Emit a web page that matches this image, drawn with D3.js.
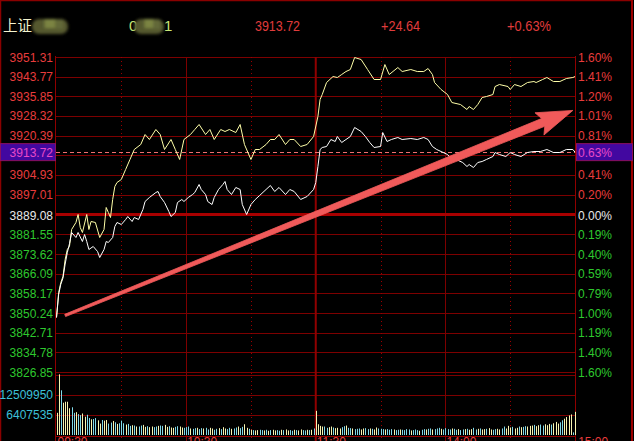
<!DOCTYPE html>
<html><head><meta charset="utf-8">
<script src="https://cdn.jsdelivr.net/npm/d3@7"></script>
<style>
html,body{margin:0;padding:0;background:#000;overflow:hidden;}
svg{display:block;}
</style></head>
<body>
<svg id="chart" width="634" height="441"></svg>
<script>
// ===== DATA =====
const prevClose = 3889.08;
const currentPrice = 3913.72;
const headerTexts = ["3913.72", "+24.64", "+0.63%"];
const priceTicks = [3951.31, 3943.77, 3935.85, 3928.32, 3920.39, 3904.93, 3897.01, 3889.08,
                    3881.55, 3873.62, 3866.09, 3858.17, 3850.24, 3842.71, 3834.78, 3826.85];
const pctLabels = ["1.60%", "1.41%", "1.20%", "1.01%", "0.81%", "0.41%", "0.20%", "0.00%",
                   "0.19%", "0.40%", "0.59%", "0.79%", "1.00%", "1.19%", "1.40%", "1.60%"];
const currentPct = "0.63%";
const volTicks = [12509950, 6407535];
const timeLabels = ["09:30", "10:30", "11:30", "14:00", "15:00"];
const timeLabelMinutes = [0, 60, 120, 180, 241];

// yellow line (unweighted) : minute index, price
const yellowMin = [0,1,2,3,4,5,6,7,9,10,11,12,14,15,16,18,20,22,23,24,25,26,27,28,30,32,34,36,39,41,43,46,48,50,53,55,57,59,62,64,66,69,71,73,76,78,80,83,85,87,90,92,94,97,99,101,103,106,108,110,113,116,119,121,122,123,125,128,130,132,134,136,138,141,144,147,150,152,154,158,160,164,167,170,172,174,175,178,181,183,187,190,191,193,195,197,199,202,203,205,209,210,212,215,218,221,222,225,227,230,233,236,239,240];
const yellowVal = [3848.39,3858.27,3862.22,3864.59,3871.30,3875.25,3876.44,3883.15,3885.92,3889.08,3883.94,3881.97,3889.08,3883.15,3886.31,3885.92,3879.99,3883.15,3891.85,3889.87,3887.89,3895.01,3900.14,3901.72,3902.91,3906.86,3910.81,3914.76,3916.73,3920.68,3918.71,3922.66,3920.68,3914.76,3918.71,3914.76,3910.81,3918.71,3920.68,3922.66,3924.63,3920.68,3922.66,3918.71,3922.66,3921.87,3922.66,3921.47,3924.63,3916.73,3910.81,3914.76,3914.76,3916.73,3918.71,3918.71,3920.68,3916.73,3918.71,3918.71,3915.94,3916.73,3919.89,3927.79,3934.51,3936.48,3941.22,3943.59,3943.20,3944.38,3945.57,3946.36,3951.10,3950.31,3946.36,3942.41,3942.41,3948.33,3944.38,3947.15,3945.57,3946.36,3945.57,3945.57,3946.75,3944.38,3941.22,3938.46,3936.48,3933.32,3932.53,3930.56,3931.74,3930.56,3932.53,3935.30,3935.69,3936.48,3939.64,3940.43,3939.64,3938.46,3940.43,3939.64,3941.22,3941.62,3941.22,3942.41,3943.20,3941.62,3941.62,3942.80,3943.20,3943.59];

// white line (index) : minute index, price
const whiteMin = [0,1,2,3,4,5,6,7,9,10,12,13,14,15,17,19,20,22,23,24,26,27,28,30,32,33,35,36,38,40,41,43,46,47,48,50,52,53,55,56,58,59,61,63,64,66,67,69,70,72,73,75,77,78,79,81,83,85,86,88,90,92,94,97,99,101,103,106,108,110,113,116,119,120,121,122,123,125,127,129,130,132,134,136,138,141,143,145,147,150,151,153,155,158,160,164,167,170,172,174,176,179,181,183,185,188,190,191,193,195,197,199,202,203,205,208,210,212,215,218,221,224,227,230,233,236,239,240];
const whiteVal = [3848.39,3857.50,3861.50,3864.00,3869.50,3874.00,3877.50,3881.97,3879.99,3881.97,3878.41,3881.18,3878.41,3875.25,3876.44,3874.46,3872.09,3875.25,3878.41,3878.02,3879.99,3884.34,3885.92,3885.13,3887.10,3888.29,3886.31,3887.89,3887.10,3891.06,3894.22,3895.80,3897.77,3898.17,3896.19,3893.82,3890.27,3888.29,3889.87,3893.82,3895.01,3894.22,3895.80,3896.98,3897.77,3900.93,3898.96,3896.98,3894.22,3893.03,3895.80,3898.96,3900.93,3902.12,3898.96,3896.98,3899.75,3898.96,3893.03,3889.08,3893.03,3895.01,3896.58,3898.96,3900.54,3898.17,3899.75,3896.98,3898.96,3898.17,3895.01,3896.19,3898.96,3901.72,3908.04,3914.76,3915.55,3915.94,3918.71,3917.92,3919.89,3917.52,3918.71,3919.89,3923.45,3921.87,3919.89,3917.52,3915.55,3915.94,3921.47,3917.92,3918.71,3919.50,3918.71,3919.10,3918.71,3919.50,3918.71,3915.94,3914.76,3913.57,3912.78,3910.81,3910.81,3909.62,3908.04,3908.83,3907.65,3909.62,3910.02,3910.81,3911.99,3913.57,3912.78,3911.99,3913.57,3912.78,3911.99,3913.57,3913.97,3913.97,3914.76,3913.57,3913.57,3914.76,3914.76,3913.72];

// volume per minute (millions of shares), minutes 0..240
const volumeM = [
6.8,18.6,13.7,9.9,10.2,10.2,8.2,8.5,6.8,7.0,6.4,6.1,6.6,5.6,6.2,5.2,4.8,4.9,5.2,4.5,3.5,4.6,4.4,4.6,3.5,3.8,4.3,3.9,3.4,3.6,
4.4,3.6,3.2,3.4,2.8,3.0,2.9,2.6,2.6,2.9,3.1,2.5,2.7,2.4,2.6,2.4,2.6,2.8,2.9,2.8,3.1,2.5,2.7,2.3,2.2,2.5,2.7,2.6,2.3,2.2,
2.4,2.6,2.0,1.9,2.1,2.2,1.8,2.1,2.0,2.2,1.7,2.2,2.0,1.6,1.9,2.1,1.8,2.4,2.0,1.8,2.2,1.9,2.0,2.3,2.6,2.1,2.5,3.3,2.2,1.9,
1.6,1.5,1.4,1.5,1.6,1.5,1.4,1.6,1.3,1.5,1.6,1.4,1.5,1.3,1.6,1.5,1.7,1.4,1.5,1.3,1.6,1.5,1.4,1.7,1.5,1.4,1.6,1.5,1.6,2.0,
7.4,3.3,2.8,2.6,2.6,2.2,2.4,2.6,2.3,2.1,2.2,2.0,2.4,2.7,2.9,2.2,2.1,2.0,1.8,1.9,2.0,1.7,2.0,2.1,1.8,2.0,1.9,1.7,2.3,2.0,
1.9,1.8,1.7,1.8,1.6,1.8,1.7,1.5,1.6,1.7,1.6,1.5,1.8,1.7,1.4,1.5,1.7,1.5,1.3,1.6,1.8,1.7,1.9,2.0,1.7,1.8,2.0,2.2,1.9,1.7,
2.1,1.8,1.7,2.0,1.9,1.6,1.8,1.5,1.7,1.8,1.9,1.6,1.8,2.2,1.7,1.9,2.0,1.7,1.8,1.9,2.1,1.7,1.6,1.8,1.9,1.7,2.0,2.6,2.0,2.8,
2.3,2.5,2.0,2.2,2.6,2.4,2.5,2.7,2.6,2.8,2.9,3.1,2.7,3.0,3.2,2.9,3.3,3.0,3.4,3.2,3.6,4.0,3.5,3.9,4.5,5.0,5.5,6.0,6.3,0.8,7.1];
const volumeDir =
"uuduuuuddudduuddudduuduuddudud" +
"dduddududduuduuddudduuduudduud" +
"ddudduddudduudduduudduddudduud" +
"uduuddududuudduduudduduuddudud" +
"uuuudduuduuuddudduddduudduduud" +
"ddudddudduddddudddudduddudddud" +
"ddduddudduduudduduuduudduudduu" +
"uduududduuuduudduuuduuudduuuudu";

// annotation arrow, in data coordinates (minute, price)
const arrowFrom = [4, 3849.2];
const arrowTo = [239, 3930.2];

// ===== DRAW =====
const svg = d3.select("#chart");
const W = 634, H = 441;
const gridCol = "#7d0000";
const redTxt = "#e83c3c", greenTxt = "#2ec82e", whiteTxt = "#e8e8e8", cyanTxt = "#3cc0d8";
const labelFont = "Liberation Sans, Arial, sans-serif";

svg.append("rect").attr("width", W).attr("height", H).attr("fill", "#000");

const x = d3.scaleLinear().domain([0, 240]).range([56.5, 575]);
const span = prevClose * 0.016;
const y = d3.scaleLinear().domain([prevClose - span, prevClose + span]).range([372, 57]);
const yV = d3.scaleLinear().domain([0, 18.7]).range([435, 374]);

// outer frame
svg.append("rect").attr("x", 0.5).attr("y", 0.5).attr("width", 631.5).attr("height", 460)
  .attr("fill", "none").attr("stroke", "#8a0000").attr("stroke-width", 1.5);
svg.append("line").attr("x1", 632).attr("x2", 632).attr("y1", 0).attr("y2", H)
  .attr("stroke", "#9a0000").attr("stroke-width", 2);

// header
const hdr = svg.append("g").attr("font-size", 15);
hdr.append("text").attr("x", 3).attr("y", 31).attr("fill", "#f4f4d0")
  .attr("font-family", "Noto Sans CJK SC, sans-serif").attr("font-size", 14.5).text("上证");
const defs = svg.append("defs");
defs.append("filter").attr("id", "blur").attr("x", "-30%").attr("y", "-50%").attr("width", "160%").attr("height", "200%")
  .append("feGaussianBlur").attr("stdDeviation", 1.6);
const blobs = [[32, 36], [134, 30]];
blobs.forEach(b => {
  const g = svg.append("g").attr("filter", "url(#blur)");
  g.append("rect").attr("x", b[0]).attr("y", 19).attr("width", b[1]).attr("height", 15).attr("rx", 7).attr("fill", "#55582e");
  g.append("rect").attr("x", b[0] + b[1] * 0.35).attr("y", 19).attr("width", b[1] * 0.3).attr("height", 9).attr("fill", "#7c8442");
  g.append("rect").attr("x", b[0] + b[1] * 0.65).attr("y", 20).attr("width", b[1] * 0.22).attr("height", 9).attr("fill", "#626838");
});
const narrow = "Liberation Sans Narrow, Arial Narrow, Liberation Sans, sans-serif";
hdr.append("text").attr("x", 129).attr("y", 31).attr("fill", "#c8e878").attr("font-family", narrow).text("0");
hdr.append("text").attr("x", 164).attr("y", 31).attr("fill", "#c8e878").attr("font-family", narrow).text("1");
[255, 381, 507].forEach((px, i) => {
  hdr.append("text").attr("x", px).attr("y", 31).attr("fill", "#e03c3c")
    .attr("font-family", narrow).attr("textLength", [45, 39, 44][i]).attr("lengthAdjust", "spacingAndGlyphs")
    .text(headerTexts[i]);
});

// horizontal grid (17 evenly spaced rows)
const gridVals = d3.range(17).map(i => prevClose - span + i * span / 8);
svg.append("g").selectAll("line").data(gridVals).join("line")
  .attr("x1", 56).attr("x2", 575)
  .attr("y1", d => Math.round(y(d)) + 0.5).attr("y2", d => Math.round(y(d)) + 0.5)
  .attr("stroke", gridCol).attr("stroke-width", 1);
// volume grid
svg.append("g").selectAll("line").data([18.4, 12.2, 6.1]).join("line")
  .attr("x1", 56).attr("x2", 575)
  .attr("y1", d => Math.round(yV(d)) + 0.5).attr("y2", d => Math.round(yV(d)) + 0.5)
  .attr("stroke", gridCol);

// vertical grid
const solidMins = [60, 180], dotMins = [30, 90, 150, 210];
svg.append("g").selectAll("line").data(solidMins).join("line")
  .attr("x1", d => Math.round(x(d)) + 0.5).attr("x2", d => Math.round(x(d)) + 0.5)
  .attr("y1", 57).attr("y2", 441).attr("stroke", gridCol);
svg.append("g").selectAll("line").data(dotMins).join("line")
  .attr("x1", d => Math.round(x(d)) + 0.5).attr("x2", d => Math.round(x(d)) + 0.5)
  .attr("y1", 57).attr("y2", 441).attr("stroke", "#9a0000").attr("stroke-dasharray", "1,3");
svg.append("line").attr("x1", x(120)).attr("x2", x(120)).attr("y1", 57).attr("y2", 441)
  .attr("stroke", "#900000").attr("stroke-width", 2);
// axes borders
svg.append("line").attr("x1", 55.5).attr("x2", 55.5).attr("y1", 56).attr("y2", 441).attr("stroke", "#900000");
svg.append("line").attr("x1", 575.5).attr("x2", 575.5).attr("y1", 56).attr("y2", 441).attr("stroke", "#900000");
svg.append("line").attr("x1", 56).attr("x2", 575).attr("y1", 436.5).attr("y2", 436.5).attr("stroke", "#900000");

// zero line
svg.append("line").attr("x1", 56).attr("x2", 575).attr("y1", y(prevClose)).attr("y2", y(prevClose))
  .attr("stroke", "#a80000").attr("stroke-width", 3);

// current price dashed line
svg.append("line").attr("x1", 56).attr("x2", 575).attr("y1", Math.round(y(currentPrice)) + 0.5).attr("y2", Math.round(y(currentPrice)) + 0.5)
  .attr("stroke", "#f07070").attr("stroke-dasharray", "4,3");

// volume bars
svg.append("g").selectAll("line").data(volumeM).join("line")
  .attr("x1", (d, i) => Math.round(x(i)) + 0.5).attr("x2", (d, i) => Math.round(x(i)) + 0.5)
  .attr("y1", yV(0)).attr("y2", d => yV(d))
  .attr("stroke", (d, i) => (volumeDir[i] || "u") === "u" ? "#f8f4b0" : "#80d8e8")
  .attr("stroke-width", 1);

// price lines
const line = d3.line().x(d => x(d[0])).y(d => y(d[1]));
svg.append("path").datum(yellowMin.map((m, i) => [m, yellowVal[i]]))
  .attr("d", line).attr("fill", "none").attr("stroke", "#ffffa8").attr("stroke-width", 1);
svg.append("path").datum(whiteMin.map((m, i) => [m, whiteVal[i]]))
  .attr("d", line).attr("fill", "none").attr("stroke", "#ffffff").attr("stroke-width", 1);

// left labels
const tickColor = v => v > prevClose ? redTxt : (v < prevClose ? greenTxt : whiteTxt);
svg.append("g").selectAll("text").data(priceTicks).join("text")
  .attr("x", 53).attr("y", d => y(d) + 5).attr("text-anchor", "end")
  .attr("font-family", labelFont).attr("font-size", 12).attr("fill", tickColor)
  .text(d => d.toFixed(2));
// right labels
svg.append("g").selectAll("text").data(pctLabels).join("text")
  .attr("x", 578).attr("y", (d, i) => y(priceTicks[i]) + 5)
  .attr("font-family", labelFont).attr("font-size", 12).attr("fill", (d, i) => tickColor(priceTicks[i]))
  .text(d => d);

// current price highlight boxes
const cy = y(currentPrice);
[[0, 55], [576, 56]].forEach(b => {
  svg.append("rect").attr("x", b[0] + 0.5).attr("y", cy - 8.5).attr("width", b[1]).attr("height", 17)
    .attr("fill", "#4208a0").attr("stroke", "#8a1060").attr("stroke-width", 1);
});
svg.append("text").attr("x", 53).attr("y", cy + 5).attr("text-anchor", "end")
  .attr("font-family", labelFont).attr("font-size", 12).attr("fill", "#e848c8").text(currentPrice.toFixed(2));
svg.append("text").attr("x", 578).attr("y", cy + 5)
  .attr("font-family", labelFont).attr("font-size", 12).attr("fill", "#e848c8").text(currentPct);

// volume labels
svg.append("g").selectAll("text").data(volTicks).join("text")
  .attr("x", 53).attr("y", d => yV(d / 1e6) + 5).attr("text-anchor", "end")
  .attr("font-family", labelFont).attr("font-size", 12).attr("fill", cyanTxt)
  .text(d => d);

// time labels (cut off by the bottom edge, as in the source screenshot)
svg.append("g").selectAll("text").data(timeLabels).join("text")
  .attr("x", (d, i) => x(timeLabelMinutes[i]) + 1).attr("y", 446)
  .attr("font-family", labelFont).attr("font-size", 12).attr("fill", redTxt)
  .text(d => d);

// annotation arrow (tapered)
const p0 = [x(arrowFrom[0]), y(arrowFrom[1])], p1 = [x(arrowTo[0]), y(arrowTo[1])];
const dx = p1[0] - p0[0], dy = p1[1] - p0[1], L = Math.hypot(dx, dy);
const ux = dx / L, uy = dy / L, nx = -uy, ny = ux;
const headLen = 32, headHalf = 12, w0 = 1.2, w1 = 4.2;
const bx = p1[0] - ux * headLen, by = p1[1] - uy * headLen;
const pts = [
  [p0[0] + nx * w0, p0[1] + ny * w0],
  [bx + nx * w1, by + ny * w1],
  [bx + nx * headHalf - ux * 4, by + ny * headHalf - uy * 4],
  p1,
  [bx - nx * headHalf - ux * 4, by - ny * headHalf - uy * 4],
  [bx - nx * w1, by - ny * w1],
  [p0[0] - nx * w0, p0[1] - ny * w0]
];
svg.append("path").attr("d", d3.line()(pts) + "Z").attr("fill", "#f05a5a").attr("stroke", "#f05a5a")
  .attr("stroke-width", 0.8).attr("stroke-linejoin", "round");
</script>
</body></html>
